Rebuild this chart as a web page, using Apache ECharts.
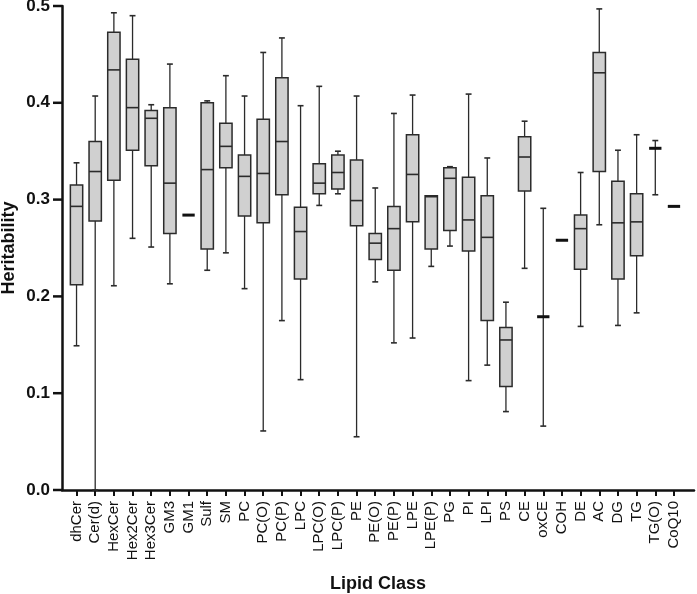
<!DOCTYPE html>
<html><head><meta charset="utf-8">
<script src="https://cdn.jsdelivr.net/npm/echarts@6/dist/echarts.min.js"></script>
<style>html,body{margin:0;padding:0;background:#fff}#c{width:697px;height:594px}</style>
</head><body><div id="c"></div>
<script>
const categories = ['dhCer','Cer(d)','HexCer','Hex2Cer','Hex3Cer','GM3','GM1','Sulf','SM','PC','PC(O)','PC(P)','LPC','LPC(O)','LPC(P)','PE','PE(O)','PE(P)','LPE','LPE(P)','PG','PI','LPI','PS','CE','oxCE','COH','DE','AC','DG','TG','TG(O)','CoQ10'];
const mins    = [0.149,0.000,0.211,0.260,0.251,0.213,0.284,0.227,0.245,0.208,0.061,0.175,0.114,0.294,0.306,0.055,0.215,0.152,0.157,0.231,0.252,0.113,0.129,0.081,0.229,0.066,0.258,0.169,0.274,0.170,0.183,0.305,0.293];
const q1s     = [0.212,0.278,0.320,0.351,0.335,0.265,0.284,0.249,0.333,0.283,0.276,0.305,0.218,0.306,0.311,0.273,0.238,0.227,0.277,0.249,0.268,0.247,0.175,0.107,0.309,0.179,0.258,0.228,0.329,0.218,0.242,0.353,0.293];
const medians = [0.293,0.329,0.434,0.395,0.384,0.317,0.284,0.331,0.355,0.324,0.327,0.360,0.267,0.317,0.328,0.299,0.255,0.270,0.326,0.303,0.322,0.279,0.261,0.155,0.344,0.179,0.258,0.270,0.431,0.276,0.277,0.353,0.293];
const q3s     = [0.315,0.360,0.473,0.445,0.392,0.395,0.284,0.400,0.379,0.346,0.383,0.426,0.292,0.337,0.346,0.341,0.265,0.293,0.367,0.304,0.333,0.323,0.304,0.168,0.365,0.179,0.258,0.284,0.452,0.319,0.306,0.353,0.293];
const maxs    = [0.338,0.407,0.493,0.490,0.398,0.440,0.284,0.402,0.428,0.407,0.452,0.467,0.397,0.417,0.350,0.407,0.312,0.389,0.408,0.304,0.334,0.409,0.343,0.194,0.381,0.291,0.258,0.328,0.497,0.351,0.367,0.361,0.293];
const yTicks = [0, 0.1, 0.2, 0.3, 0.4, 0.5];

const boxData = categories.map((c, i) => [i, mins[i], q1s[i], medians[i], q3s[i], maxs[i]]);
const FONT = 'Liberation Sans, Arial, sans-serif';
const STROKE = '#2b2b2b';

const chart = echarts.init(document.getElementById('c'), null, {renderer: 'canvas'});
chart.setOption({
  animation: false,
  backgroundColor: '#fff',
  grid: [
    {left: 62, right: 3, top: 6, bottom: 104, outerBoundsMode: 'none', containLabel: false},
    {left: 67.2, right: 13.7, top: 6, bottom: 104, outerBoundsMode: 'none', containLabel: false}
  ],
  xAxis: [
    {type: 'value', gridIndex: 0, min: 0, max: 1,
     axisLine: {show: true, onZero: false, lineStyle: {color: '#111', width: 2.5}},
     axisTick: {show: false}, axisLabel: {show: false}, splitLine: {show: false},
     name: 'Lipid Class', nameLocation: 'middle', nameGap: 85, nameMoveOverlap: false,
     nameTextStyle: {fontFamily: FONT, fontSize: 18, fontWeight: 'bold', color: '#111'}},
    {type: 'category', gridIndex: 1, data: categories, boundaryGap: true,
     axisLine: {show: false},
     axisTick: {show: true, alignWithLabel: true, length: 6, lineStyle: {color: '#111', width: 2}},
     axisLabel: {rotate: 90, interval: 0, margin: 11, fontFamily: FONT, fontSize: 15, color: '#111'},
     splitLine: {show: false}}
  ],
  yAxis: [
    {type: 'value', gridIndex: 0, min: 0, max: 0.5, interval: 0.1,
     axisLine: {show: true, onZero: false, lineStyle: {color: '#111', width: 2.5}},
     axisTick: {show: false},
     axisLabel: {show: true, margin: 12, fontFamily: FONT, fontSize: 17, fontWeight: 'bold', color: '#111',
       formatter: v => v.toFixed(1)},
     splitLine: {show: false},
     name: 'Heritability', nameLocation: 'middle', nameGap: 44, nameMoveOverlap: false,
     nameTextStyle: {fontFamily: FONT, fontSize: 18, fontWeight: 'bold', color: '#111'}},
    {type: 'value', gridIndex: 1, min: 0, max: 0.5, interval: 0.1, show: false}
  ],
  series: [{
    type: 'custom',
    xAxisIndex: 1, yAxisIndex: 1,
    data: boxData,
    encode: {x: 0, y: [1, 2, 3, 4, 5]},
    renderItem: function (params, api) {
      const x = api.value(0);
      const pMin = api.coord([x, api.value(1)]);
      const pQ1 = api.coord([x, api.value(2)]);
      const pMed = api.coord([x, api.value(3)]);
      const pQ3 = api.coord([x, api.value(4)]);
      const pMax = api.coord([x, api.value(5)]);
      const band = api.size([1, 0])[0];
      const bw = band * 0.66;
      const cw = bw * 0.48;
      const cx = pMed[0];
      const children = [];
      const ls = {stroke: STROKE, lineWidth: 1.3};
      if (pMax[1] < pQ3[1] - 0.3) {
        children.push({type: 'line', shape: {x1: cx, y1: pQ3[1], x2: cx, y2: pMax[1]}, style: ls});
        children.push({type: 'line', shape: {x1: cx - cw/2, y1: pMax[1], x2: cx + cw/2, y2: pMax[1]}, style: {stroke: STROKE, lineWidth: 1.6}});
      }
      if (pMin[1] > pQ1[1] + 0.3) {
        children.push({type: 'line', shape: {x1: cx, y1: pQ1[1], x2: cx, y2: pMin[1]}, style: ls});
        children.push({type: 'line', shape: {x1: cx - cw/2, y1: pMin[1], x2: cx + cw/2, y2: pMin[1]}, style: {stroke: STROKE, lineWidth: 1.6}});
      }
      const h = pQ1[1] - pQ3[1];
      if (h > 0.8) {
        children.push({type: 'rect', shape: {x: cx - bw/2, y: pQ3[1], width: bw, height: h},
          style: {fill: '#d0d0d0', stroke: STROKE, lineWidth: 1.5}});
        children.push({type: 'line', shape: {x1: cx - bw/2, y1: pMed[1], x2: cx + bw/2, y2: pMed[1]}, style: {stroke: STROKE, lineWidth: 1.6}});
      } else {
        children.push({type: 'line', shape: {x1: cx - bw/2, y1: pMed[1], x2: cx + bw/2, y2: pMed[1]}, style: {stroke: '#111', lineWidth: 3}});
      }
      return {type: 'group', children: children};
    }
  }]
});

// y-axis tick marks, positioned through the axis scale
const axisX = chart.convertToPixel({xAxisIndex: 0}, 0);
chart.setOption({
  graphic: yTicks.map(v => {
    const py = chart.convertToPixel({yAxisIndex: 0}, v);
    return {type: 'line', z: 100, silent: true,
      shape: {x1: axisX - 9, y1: py, x2: axisX, y2: py},
      style: {stroke: '#111', lineWidth: 2.5}};
  })
});
</script></body></html>
